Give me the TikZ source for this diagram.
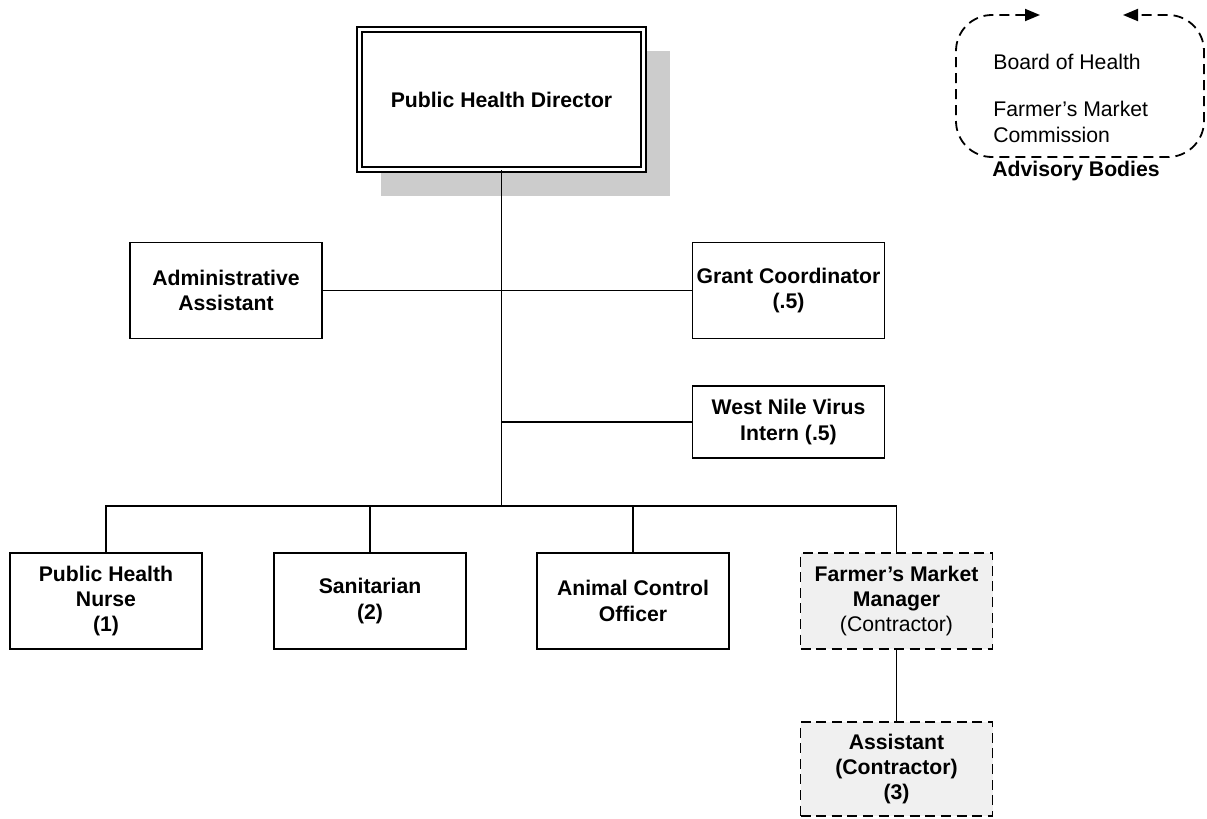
\documentclass[tikz,border=0pt]{standalone}
\usepackage{fontspec}
\setmainfont{Liberation Sans}
\usetikzlibrary{arrows.meta}

\begin{document}
\begin{tikzpicture}[x=0.5pt,y=-0.5pt,>={Triangle[length=7.5pt,width=6pt]},
  every node/.style={font=\fontsize{10.6}{12.6}\selectfont,align=center,inner sep=0pt},
  staffbox/.style={draw,line width=0.75pt,minimum width=96pt,minimum height=48pt,font=\fontsize{10.6}{12.6}\selectfont\bfseries},
  contractbox/.style={staffbox,line width=0.9pt,dash pattern=on 5pt off 2.8pt,fill=gray!12},
  orgline/.style={line width=0.55pt}]
\useasboundingbox (0,0) rectangle (1207,819);
\fill[gray!40] (381,51) rectangle (670,196);
\node[staffbox,fill=white,double,double distance=1.8pt,minimum width=142pt,minimum height=70pt] (dir) at (501.5,99.5) {Public Health Director};
\node[staffbox] (admin) at (226,290.5) {Administrative\\Assistant};
\node[staffbox] (grant) at (788.5,290.5) {Grant Coordinator\\(.5)};
\node[staffbox,minimum height=36pt] (wnv) at (788.5,422) {West Nile Virus\\Intern (.5)};
\node[staffbox] (nurse) at (106,601) {Public Health\\Nurse\\(1)};
\node[staffbox] (sanit) at (370,601) {Sanitarian\\(2)};
\node[staffbox] (animal) at (633,601) {Animal Control\\Officer};
\node[contractbox] (fmm) at (896.5,601) {Farmer’s Market\\Manager\\{\mdseries (Contractor)}};
\node[contractbox,minimum height=47pt] (fmasst) at (896.5,769) {Assistant\\(Contractor)\\(3)};
\coordinate (bus) at (501.5,506);
\draw[orgline] (dir.south) -- (bus);
\draw[orgline] (admin) -- (admin -| dir.south);
\draw[orgline] (grant) -- (grant -| dir.south);
\draw[orgline] (wnv) -- (wnv -| dir.south);
\draw[orgline] (nurse.north) -- (nurse.north |- bus) -- (fmm.north |- bus) -- (fmm.north);
\draw[orgline] (sanit.north) -- (sanit.north |- bus);
\draw[orgline] (animal.north) -- (animal.north |- bus);
\draw[orgline] (fmm) -- (fmasst);
\draw[<->,dash pattern=on 5pt off 3pt,line width=0.9pt,rounded corners=18pt] (1040,15) -- (956,15) -- (956,157) -- (1204,157) -- (1204,15) -- (1123,15);
\node[anchor=west] (board) at (993,62) {Board of Health};
\node[anchor=west,align=left] (market) at (993,122) {Farmer’s Market\\Commission};
\node[font=\fontsize{10.6}{12.6}\selectfont\bfseries] (advisory) at (1076,171) {Advisory Bodies};
\end{tikzpicture}
\end{document}
